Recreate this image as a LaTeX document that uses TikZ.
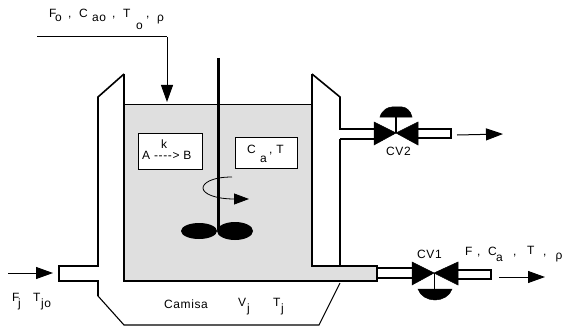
\documentclass[tikz,border=0pt]{standalone}
\usepackage{fontspec}
\setmainfont[LetterSpace=5]{Liberation Sans}
\usetikzlibrary{arrows.meta}

\begin{document}
\begin{tikzpicture}[x=1pt,y=-1pt,
    wall/.style={draw,line width=1.6pt,line join=miter},
    pipe/.style={draw,line width=1.1pt},
    flow/.style={draw,line width=1pt,-{Triangle[length=17pt,width=12pt]}},
    solid/.style={fill=black,draw=black,line width=0.5pt},
    info/.style={draw,line width=0.9pt,fill=white},
    lbl/.style={anchor=base west,inner sep=0pt,font=\fontsize{12}{12}\selectfont},
    sub/.style={anchor=base west,inner sep=0pt,font=\fontsize{12}{12}\selectfont}]
    \useasboundingbox (0,0) rectangle (564,326);

    \fill[gray!25] (124,105) -- (312,105) -- (312,266) -- (377,266) -- (377,281) -- (124,281) -- cycle;
    \draw[line width=1pt] (124,105) -- (312,105);
    \draw[line width=2pt] (124,74) -- (124,281) -- (377,281) -- (377,266) -- (312,266) -- (312,74);

    \draw[wall] (124,74) -- (98,97) -- (98,266) -- (59,266) -- (59,281) -- (98,281) -- (98,296);
    \draw[line width=1.1pt] (98,296) -- (124,325) -- (319,325) -- (340,283);
    \draw[wall] (312,74) -- (340,97) -- (340,129) -- (374,129);
    \draw[line width=1.1pt] (340,139) -- (340,266);

    \draw[pipe] (377,268) -- (412,268);
    \draw[pipe] (377,278) -- (412,278);
    \draw[pipe] (458,270) -- (491,270) -- (491,279) -- (458,279);
    \draw[pipe] (340,139) -- (374,139);
    \draw[pipe] (418,129) -- (451,129) -- (451,138) -- (418,138);

    \draw[solid] (374,122) -- (396,133) -- (374,145) -- cycle;
    \draw[solid] (418,122) -- (396,133) -- (418,145) -- cycle;
    \draw[line width=1.2pt] (396,133) -- (396,115);
    \draw[solid] (380,117) .. controls (382,110) and (388,107) .. (392,107) -- (402,107) .. controls (406,107) and (411,111) .. (412,117) -- cycle;

    \draw[solid] (412,262) -- (434,273) -- (412,285) -- cycle;
    \draw[solid] (458,262) -- (434,273) -- (458,285) -- cycle;
    \draw[line width=1pt] (434,273) -- (434,290);
    \draw[solid] (418,289) -- (452,289) .. controls (450,296) and (442,300) .. (435,300) .. controls (428,300) and (420,296) .. (418,289) -- cycle;

    \draw[line width=3pt] (218,58) -- (218,230);
    \fill (199,231) ellipse (18 and 8);
    \fill (235,231) ellipse (18 and 9);

    \coordinate (feedin) at (37,37);
    \coordinate (feedturn) at (167,37);
    \coordinate (feedend) at (167,102);
    \draw[line width=1pt] (feedin) -- (feedturn);
    \draw[flow] (feedturn) -- (feedend);
    \coordinate (spin0) at (232,177);
    \coordinate (spin1) at (249,199);
    \draw[line width=0.8pt,-{Triangle[length=15pt,width=11pt]}] (spin0) .. controls (212,177) and (203,183) .. (203,188) .. controls (203,194) and (216,199) .. (spin1);

    \coordinate (jin0) at (8,273);
    \coordinate (jin1) at (53,273);
    \coordinate (jout0) at (457,135);
    \coordinate (jout1) at (503,134);
    \coordinate (out0) at (499,277);
    \coordinate (out1) at (545,277);
    \draw[flow] (jin0) -- (jin1);
    \draw[flow] (jout0) -- (jout1);
    \draw[flow] (out0) -- (out1);

    \node[info,minimum width=64pt,minimum height=36pt,inner sep=0pt] (rxbox) at (170.5,151) {};
    \node[info,minimum width=62pt,minimum height=31pt,inner sep=0pt] (cbox) at (266.5,152.5) {};

    \node[lbl] (f0) at (49,18) {F};
    \node[sub] (f0s) at (55,22) {o};
    \node[lbl] (c1) at (68,18) {,};
    \node[lbl] (ca0) at (79,18) {C};
    \node[sub] (ca0s) at (92,22) {ao};
    \node[lbl] (c2) at (112,18) {,};
    \node[lbl] (t0) at (123,18) {T};
    \node[sub] (t0s) at (136,30) {o};
    \node[lbl] (c3) at (146,18) {,};
    \node[lbl] (rho0) at (157,22) {ρ};

    \node[lbl] (k) at (161,148) {k};
    \node[lbl] (ab) at (142,159) {A -{}-{}-{}-> B};
    \node[lbl] (ca) at (247,153) {C};
    \node[sub] (cas) at (260,162) {a};
    \node[lbl] (cat) at (269,153) {, T};

    \node[lbl] (cv2) at (386,155) {CV2};
    \node[lbl] (cv1) at (417,258) {CV1};

    \node[lbl] (fo) at (465,255) {F};
    \node[lbl] (c4) at (477,255) {,};
    \node[lbl] (co) at (488,255) {C};
    \node[sub] (cos) at (496,261) {a};
    \node[lbl] (c5) at (513,255) {,};
    \node[lbl] (to) at (527,254) {T};
    \node[lbl] (c6) at (543,255) {,};
    \node[lbl] (rho1) at (555.5,259) {ρ};

    \node[lbl] (fj) at (12,301) {F};
    \node[sub] (fjs) at (18,307) {j};
    \node[lbl] (tj) at (33,301) {T};
    \node[sub] (tjs) at (41,307) {jo};
    \node[lbl] (camisa) at (164,308) {Camisa};
    \node[lbl] (vj) at (238,306) {V};
    \node[sub] (vjs) at (247,312) {j};
    \node[lbl] (tjj) at (273,306) {T};
    \node[sub] (tjjs) at (281,312) {j};
\end{tikzpicture}
\end{document}
